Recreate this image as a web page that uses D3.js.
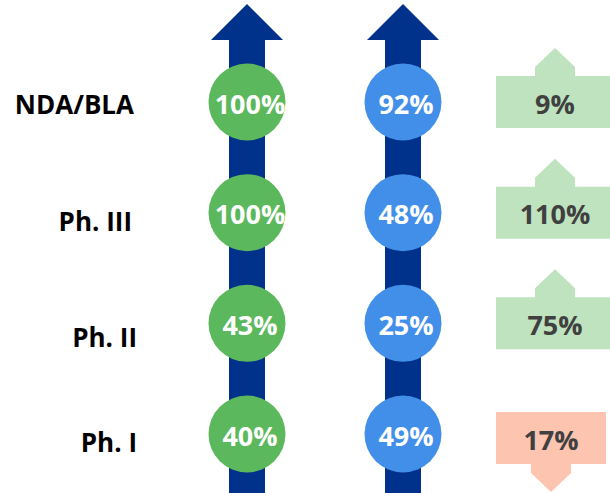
<!DOCTYPE html>
<html><head><meta charset="utf-8">
<script src="https://cdn.jsdelivr.net/npm/d3@7"></script>
<style>html,body{margin:0;padding:0;background:#fff;}svg{display:block;}</style>
</head><body>
<svg id="chart" width="610" height="493"></svg>
<script>
// Data
const stages = ["NDA/BLA", "Ph. III", "Ph. II", "Ph. I"];
const seriesGreen = [100, 100, 43, 40];
const seriesBlue = [92, 48, 25, 49];
const changes = [9, 110, 75, -17];
const columns = ["green", "blue"];

const W = 610, H = 493;
const svg = d3.select("#chart");
const font = "'Open Sans', Lato, sans-serif";

const y = d3.scalePoint().domain(stages).range([102, 434]);
const yLabel = d3.scaleOrdinal().domain(stages).range([104, 221, 337, 442]);
const xLabel = d3.scaleOrdinal().domain(stages).range([134, 132, 137, 137]);
const x = d3.scalePoint().domain(columns).range([247, 403]);

const colors = {green: "#5cb85c", blue: "#428fe9"};
const navy = "#00318b";
const R = 38.5;

// Arrows (shafts with heads)
const shaftHalf = 18, headHalf = 36, tipY = 4, headBase = 40;
columns.forEach(c => {
  const cx = x(c);
  const p = d3.path();
  p.moveTo(cx, tipY);
  p.lineTo(cx + headHalf, headBase);
  p.lineTo(cx + shaftHalf, headBase);
  p.lineTo(cx + shaftHalf, H + 5);
  p.lineTo(cx - shaftHalf, H + 5);
  p.lineTo(cx - shaftHalf, headBase);
  p.lineTo(cx - headHalf, headBase);
  p.closePath();
  svg.append("path").attr("d", p.toString()).attr("fill", navy);
});

// Stage labels
svg.append("g").selectAll("text").data(stages).join("text")
  .attr("x", d => xLabel(d)).attr("y", d => yLabel(d))
  .attr("text-anchor", "end").attr("dominant-baseline", "central")
  .attr("font-family", font).attr("font-weight", 700).attr("font-size", 26)
  .attr("fill", "#000").text(d => d);

// Circles
const seriesMap = {green: seriesGreen, blue: seriesBlue};
columns.forEach(c => {
  const g = svg.append("g");
  const data = stages.map((s, i) => ({s, v: seriesMap[c][i]}));
  g.selectAll("circle").data(data).join("circle")
    .attr("cx", x(c)).attr("cy", d => y(d.s)).attr("r", R)
    .attr("fill", colors[c]);
  g.selectAll("text").data(data).join("text")
    .attr("x", x(c) + 3).attr("y", d => y(d.s) + 1)
    .attr("text-anchor", "middle").attr("dominant-baseline", "central")
    .attr("font-family", font).attr("font-weight", 700).attr("font-size", 27)
    .attr("fill", "#fff").text(d => d.v + "%");
});

// Change boxes
const boxX = 496, boxH = 52, tabHalf = 20, tabStem = 9, tabHead = 19;
const boxG = svg.append("g");
stages.forEach((s, i) => {
  const v = changes[i];
  const up = v >= 0;
  const bw = up ? 118 : 110;
  const cx = boxX + bw / 2;
  const top = y(s) - boxH / 2 + (up ? 0 : 4);
  const bot = top + boxH;
  const p = d3.path();
  if (up) {
    p.moveTo(boxX, top);
    p.lineTo(cx - tabHalf, top);
    p.lineTo(cx - tabHalf, top - tabStem);
    p.lineTo(cx, top - tabStem - tabHead);
    p.lineTo(cx + tabHalf, top - tabStem);
    p.lineTo(cx + tabHalf, top);
    p.lineTo(boxX + bw, top);
    p.lineTo(boxX + bw, bot);
    p.lineTo(boxX, bot);
  } else {
    p.moveTo(boxX, top);
    p.lineTo(boxX + bw, top);
    p.lineTo(boxX + bw, bot);
    p.lineTo(cx + tabHalf, bot);
    p.lineTo(cx + tabHalf, bot + tabStem);
    p.lineTo(cx, bot + tabStem + tabHead);
    p.lineTo(cx - tabHalf, bot + tabStem);
    p.lineTo(cx - tabHalf, bot);
    p.lineTo(boxX, bot);
  }
  p.closePath();
  boxG.append("path").attr("d", p.toString()).attr("fill", up ? "#bee3be" : "#fdc4b0");
  boxG.append("text")
    .attr("x", cx).attr("y", (top + bot) / 2 + 1)
    .attr("text-anchor", "middle").attr("dominant-baseline", "central")
    .attr("font-family", font).attr("font-weight", 700).attr("font-size", 27)
    .attr("fill", "#404040").text(Math.abs(v) + "%");
});
</script>
</body></html>
